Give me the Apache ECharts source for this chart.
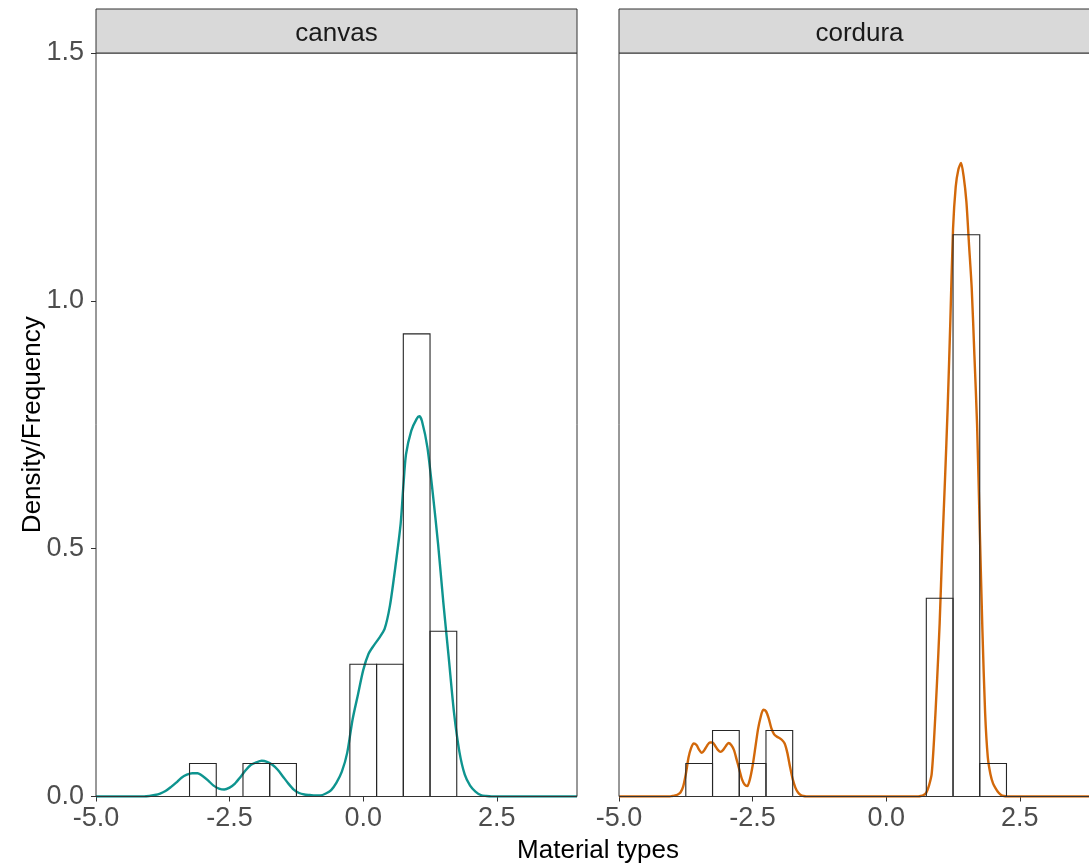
<!DOCTYPE html>
<html>
<head>
<meta charset="utf-8">
<script src="https://cdn.jsdelivr.net/npm/echarts@6/dist/echarts.min.js"></script>
<style>
  html, body { margin: 0; padding: 0; background: #ffffff; overflow: hidden; }
  #chart { width: 1110px; height: 868px; }
</style>
</head>
<body>
<div id="chart"></div>
<script>
// Facet labels and tick positions
const panels = ['canvas', 'cordura'];
const xTicks = [-5, -2.5, 0, 2.5];
const yTicks = [0, 0.5, 1, 1.5];
const binWidth = 0.5;

// Histogram (density scale): left edge of each non-empty bin and its density
const canvasBinStart   = [-3.25, -2.25, -1.75, -0.25, 0.25, 0.75, 1.25];
const canvasBinDensity = [0.0667, 0.0667, 0.0667, 0.2667, 0.2667, 0.9333, 0.3333];
const corduraBinStart   = [-3.75, -3.25, -2.75, -2.25, 0.75, 1.25, 1.75];
const corduraBinDensity = [0.0667, 0.1333, 0.0667, 0.1333, 0.4, 1.1333, 0.0667];

// Kernel density estimates
const canvasDensX = [-5.0, -4.1, -4.0, -3.9, -3.8, -3.7, -3.6, -3.5, -3.4, -3.3, -3.2, -3.1, -3.0, -2.9, -2.8, -2.7, -2.6, -2.5, -2.4, -2.3, -2.2, -2.1, -2.0, -1.9, -1.8, -1.7, -1.6, -1.5, -1.4, -1.3, -1.2, -1.1, -1.0, -0.9, -0.8, -0.7, -0.6, -0.5, -0.4, -0.3, -0.2, -0.1, 0.0, 0.1, 0.2, 0.3, 0.4, 0.5, 0.6, 0.7, 0.75, 0.8, 0.9, 1.0, 1.05, 1.1, 1.2, 1.3, 1.4, 1.5, 1.6, 1.7, 1.8, 1.9, 2.0, 2.1, 2.2, 2.3, 2.4, 4.0];
const canvasDensY = [0, 0, 0.001, 0.003, 0.006, 0.011, 0.019, 0.028, 0.038, 0.044, 0.047, 0.047, 0.041, 0.032, 0.022, 0.016, 0.014, 0.018, 0.026, 0.039, 0.053, 0.064, 0.069, 0.072, 0.070, 0.064, 0.054, 0.040, 0.026, 0.014, 0.007, 0.004, 0.003, 0.002, 0.002, 0.006, 0.013, 0.028, 0.050, 0.088, 0.155, 0.205, 0.255, 0.288, 0.305, 0.320, 0.338, 0.385, 0.462, 0.550, 0.625, 0.690, 0.738, 0.762, 0.767, 0.757, 0.705, 0.613, 0.510, 0.390, 0.280, 0.168, 0.090, 0.044, 0.022, 0.010, 0.003, 0.001, 0, 0];

const corduraDensX = [-5.0, -4.05, -4.0, -3.95, -3.9, -3.85, -3.8, -3.75, -3.7, -3.65, -3.6, -3.55, -3.5, -3.45, -3.4, -3.35, -3.3, -3.25, -3.2, -3.15, -3.1, -3.05, -3.0, -2.95, -2.9, -2.85, -2.8, -2.75, -2.7, -2.65, -2.6, -2.55, -2.5, -2.45, -2.4, -2.35, -2.3, -2.25, -2.2, -2.15, -2.1, -2.05, -2.0, -1.95, -1.9, -1.85, -1.8, -1.75, -1.7, -1.65, -1.6, -1.55, -1.5, 0.6, 0.65, 0.7, 0.75, 0.8, 0.85, 0.9, 0.95, 1.0, 1.05, 1.1, 1.15, 1.2, 1.25, 1.3, 1.35, 1.4, 1.45, 1.5, 1.55, 1.6, 1.65, 1.7, 1.75, 1.8, 1.85, 1.9, 1.95, 2.0, 2.05, 2.1, 2.15, 2.2, 2.25, 4.0];
const corduraDensY = [0, 0, 0.001, 0.002, 0.004, 0.008, 0.020, 0.045, 0.078, 0.098, 0.107, 0.104, 0.094, 0.088, 0.094, 0.103, 0.109, 0.109, 0.102, 0.094, 0.090, 0.094, 0.102, 0.108, 0.104, 0.094, 0.075, 0.055, 0.035, 0.024, 0.021, 0.035, 0.062, 0.098, 0.135, 0.160, 0.175, 0.172, 0.158, 0.138, 0.126, 0.121, 0.118, 0.114, 0.107, 0.088, 0.060, 0.035, 0.018, 0.008, 0.003, 0.001, 0, 0, 0.001, 0.003, 0.008, 0.022, 0.045, 0.125, 0.23, 0.35, 0.505, 0.64, 0.785, 0.96, 1.145, 1.23, 1.265, 1.278, 1.25, 1.2, 1.112, 1.025, 0.89, 0.75, 0.54, 0.335, 0.17, 0.08, 0.045, 0.026, 0.016, 0.008, 0.003, 0.001, 0, 0];

const lineColors = ['#0E948F', '#D2680A'];

// Panel layout (pixels); the right panel runs past the visible page edge
const panelLeft = [96, 619];
const panelWidth = 481;
const panelTop = 53;
const panelBottom = 796.5;
const stripTop = 9;
const chartW = 1110, chartH = 868;
const FONT = '"Liberation Sans", Arial, sans-serif';

const zip = (a, b) => a.map((v, i) => [v, b[i]]);
const binData = (starts, dens) => starts.map((s, i) => [s, s + binWidth, dens[i]]);

function renderBin(params, api) {
  const p0 = api.coord([api.value(0), 0]);
  const p1 = api.coord([api.value(1), api.value(2)]);
  return {
    type: 'rect',
    shape: { x: p0[0], y: p1[1], width: p1[0] - p0[0], height: p0[1] - p1[1] },
    style: { fill: 'none', stroke: '#262626', lineWidth: 1.1 }
  };
}

const densities = [zip(canvasDensX, canvasDensY), zip(corduraDensX, corduraDensY)];
const bins = [binData(canvasBinStart, canvasBinDensity), binData(corduraBinStart, corduraBinDensity)];

const grids = [], xAxes = [], yAxes = [], series = [], graphics = [];
panels.forEach((name, i) => {
  grids.push({
    left: panelLeft[i],
    width: panelWidth,
    top: panelTop,
    bottom: chartH - panelBottom,
    show: true,
    backgroundColor: 'transparent',
    borderColor: '#333333',
    borderWidth: 1,
    z: 5
  });
  xAxes.push({
    type: 'value', gridIndex: i, min: -5, max: 4,
    axisLine: { show: false, onZero: false },
    splitLine: { show: false },
    axisTick: { show: true, length: 5, customValues: xTicks, lineStyle: { color: '#333333', width: 1 } },
    axisLabel: {
      show: true, customValues: xTicks, margin: 9,
      formatter: v => v.toFixed(1),
      color: '#4D4D4D', fontSize: 27, fontFamily: FONT
    }
  });
  yAxes.push({
    type: 'value', gridIndex: i, min: 0, max: 1.5,
    axisLine: { show: false, onZero: false },
    splitLine: { show: false },
    axisTick: { show: i === 0, length: 5, customValues: yTicks, lineStyle: { color: '#333333', width: 1 } },
    axisLabel: {
      show: i === 0, customValues: yTicks, margin: 12,
      formatter: v => v.toFixed(1),
      color: '#4D4D4D', fontSize: 27, fontFamily: FONT
    }
  });
  series.push({
    type: 'line', xAxisIndex: i, yAxisIndex: i,
    data: densities[i], showSymbol: false, smooth: 0.25,
    lineStyle: { color: lineColors[i], width: 2.4 },
    z: 2, silent: true
  });
  series.push({
    type: 'custom', xAxisIndex: i, yAxisIndex: i,
    data: bins[i], renderItem: renderBin,
    z: 3, silent: true
  });
  graphics.push({
    type: 'rect',
    shape: { x: panelLeft[i], y: stripTop, width: panelWidth, height: panelTop - stripTop },
    style: { fill: '#D9D9D9', stroke: '#333333', lineWidth: 1 },
    z: 10
  });
  graphics.push({
    type: 'text',
    x: panelLeft[i] + panelWidth / 2, y: (stripTop + panelTop) / 2 + 3,
    style: { text: name, fill: '#1A1A1A', font: '26px ' + FONT, align: 'center', verticalAlign: 'middle' },
    z: 11
  });
});

// Shared axis titles
graphics.push({
  type: 'text',
  x: (panelLeft[0] + panelLeft[1] + panelWidth) / 2, y: 851,
  style: { text: 'Material types', fill: '#000000', font: '26px ' + FONT, align: 'center', verticalAlign: 'middle' },
  z: 11
});
graphics.push({
  type: 'text',
  x: 33, y: (panelTop + panelBottom) / 2,
  rotation: Math.PI / 2,
  style: { text: 'Density/Frequency', fill: '#000000', font: '26px ' + FONT, align: 'center', verticalAlign: 'middle' },
  z: 11
});

const chart = echarts.init(document.getElementById('chart'), null, { renderer: 'canvas' });
chart.setOption({
  animation: false,
  backgroundColor: '#ffffff',
  grid: grids,
  xAxis: xAxes,
  yAxis: yAxes,
  series: series,
  graphic: graphics
});
</script>
</body>
</html>
